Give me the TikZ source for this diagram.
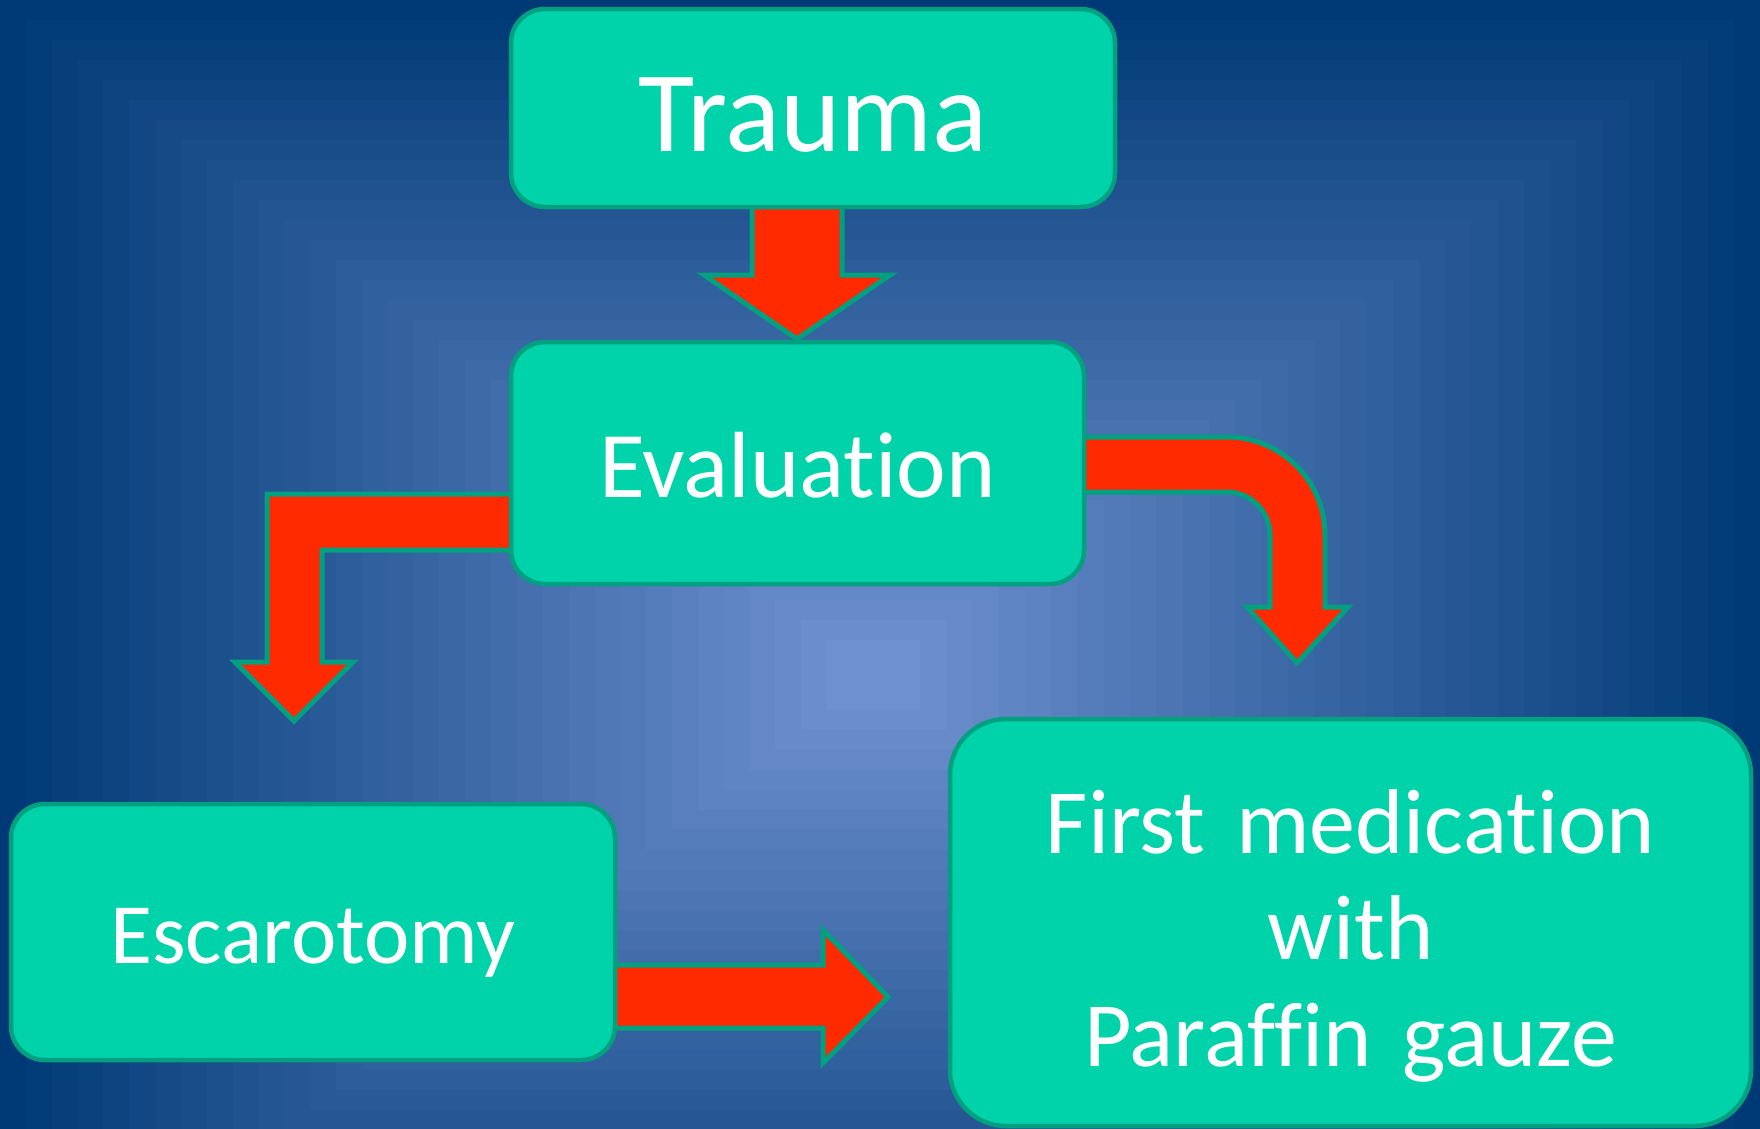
\documentclass[tikz,border=0pt]{standalone}
\usepackage{fontspec}
\setmainfont[Ligatures=NoCommon]{Carlito}
\usetikzlibrary{calc}
\definecolor{bgedge}{HTML}{003A76}
\definecolor{bgcenter}{HTML}{6E90CE}
\definecolor{boxfill}{HTML}{00D2AA}
\definecolor{boxline}{HTML}{00A080}
\definecolor{arrowfill}{HTML}{FF2A00}
\pgfdeclarelayer{bglayer}
\pgfdeclarelayer{arrowlayer}
\pgfsetlayers{bglayer,arrowlayer,main}
\tikzset{
  box/.style={draw=boxline, fill=boxfill, line width=4.5pt, rounded corners=#1,
    text=white, inner sep=0pt},
  box/.default=34pt,
  blockarrow/.style={draw=boxline, fill=arrowfill, line width=5pt, line join=miter}
}
\begin{document}
\begin{tikzpicture}[x=1pt,y=-1pt]
\useasboundingbox (0,0) rectangle (1760,1128);
% background: banded rectangular gradient (outer frame extends below the page)
\begin{pgfonlayer}{bglayer}
\fill[bgedge] (0,0) rectangle (1760,1128);
\foreach \i in {0,...,32}{
  \pgfmathsetmacro\t{\i/32}
  \pgfmathsetmacro\p{100*\t}
  \pgfmathsetmacro\xa{827*\t}
  \pgfmathsetmacro\ya{640*\t}
  \pgfmathsetmacro\xb{1760-840*\t}
  \pgfmathsetmacro\yb{1350-640*\t}
  \fill[bgcenter!\p!bgedge] (\xa,\ya) rectangle (\xb,\yb);
}
\end{pgfonlayer}

% boxes
\node[box=34pt, minimum width=604pt, minimum height=198pt,
  font=\fontsize{115}{120}\selectfont, text height=87pt, text depth=0pt]
  (tr) at (813,108) {Trauma};
\node[box=34pt, minimum width=573pt, minimum height=242pt,
  font=\fontsize{94}{100}\selectfont, text height=68pt, text depth=0pt]
  (ev) at (797.5,463) {Evaluation};
\node[box=34pt, minimum width=604pt, minimum height=256pt,
  font=\fontsize{86}{90}\selectfont, text height=62pt, text depth=0pt]
  (es) at (313,932) {Escarotomy};
\node[box=56pt, minimum width=801pt, minimum height=407pt,
  font=\fontsize{92}{106.5}\selectfont, text width=760pt, align=center,
  text height=80pt, text depth=219pt]
  (fm) at (1350.5,922.5) {First medication\\with\\Paraffin gauze};

% block arrows (behind boxes)
\begin{pgfonlayer}{arrowlayer}
% Trauma -> Evaluation
\draw[blockarrow] ($(tr.south)+(-61,-5)$) -- (752,275) -- (704,275) -- (797,339)
  -- (890,275) -- (842,275) -- ($(tr.south)+(29,-5)$) -- cycle;
% Evaluation -> Escarotomy (elbow)
\draw[blockarrow] ($(ev.west)+(5,31)$) -- (267,494) -- (267,662) -- (235,662)
  -- (294,721) -- (353,662) -- (322,662) -- (322,550) -- ($(ev.west)+(5,87)$) -- cycle;
% Evaluation -> First medication (curved)
\draw[blockarrow] ($(ev.east)+(-5,-26)$) -- (1227,437)
  .. controls (1281.1,437) and (1325,480.9) .. (1325,535)
  -- (1325,607) -- (1348,607) -- (1297,663) -- (1247,607) -- (1270,607) -- (1270,535)
  .. controls (1270,511.3) and (1250.7,492) .. (1227,492)
  -- ($(ev.east)+(-5,29)$) -- cycle;
% Escarotomy -> First medication
\draw[blockarrow] ($(es.east)+(-5,33)$) -- (823,965) -- (823,930) -- (888,997)
  -- (823,1063) -- (823,1028) -- ($(es.east)+(-5,96)$) -- cycle;
\end{pgfonlayer}
\end{tikzpicture}
\end{document}
